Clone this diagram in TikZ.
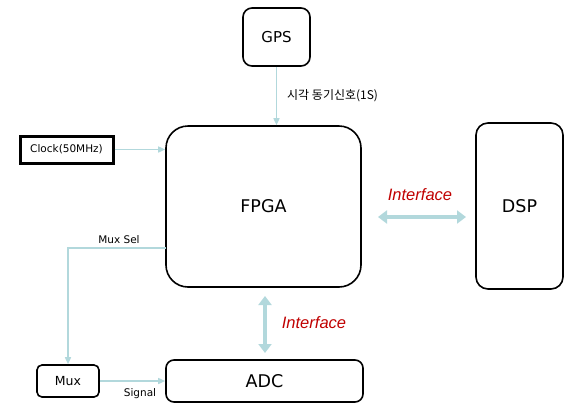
\documentclass[tikz,border=0pt]{standalone}
\usepackage{fontspec}
\setmainfont{DejaVu Sans}
\newfontfamily\kofont{Noto Sans CJK KR}
\newfontfamily\itfont{Liberation Sans}
\usetikzlibrary{arrows.meta}
\definecolor{lnblue}{HTML}{B2D8DC}
\definecolor{ifred}{HTML}{C00000}
\begin{document}
\begin{tikzpicture}[x=1pt,y=-1pt,
  blk/.style={draw=black,line width=1.6pt,rounded corners=#1,inner sep=0pt},
  blk/.default=8pt,
  sig/.style={draw=lnblue,line width=1.5pt,-{Triangle[length=7pt,width=6pt]}},
  bus/.style={draw=lnblue,line width=4pt,{Triangle[length=9pt,width=13pt]}-{Triangle[length=9pt,width=13pt]}},
  lbl/.style={font=\fontsize{10.5}{12}\selectfont,inner sep=1pt},
  iflbl/.style={font=\itfont\itshape\fontsize{16.5}{18}\selectfont,text=ifred}]
\useasboundingbox (0,0) rectangle (587,413);
\node[blk=9pt,minimum width=67pt,minimum height=58pt,font=\fontsize{15}{17}\selectfont] (gps) at (276.5,37) {GPS};
\node[blk=22pt,minimum width=195pt,minimum height=161pt,font=\fontsize{17.5}{19}\selectfont] (fpga) at (263.5,206.5) {FPGA};
\node[blk=12pt,minimum width=87pt,minimum height=166pt,font=\fontsize{17.5}{19}\selectfont] (dsp) at (519.5,206) {DSP};
\node[blk=8pt,minimum width=197pt,minimum height=42pt,font=\fontsize{17.5}{19}\selectfont] (adc) at (264.5,381) {ADC};
\node[blk=5pt,minimum width=62pt,minimum height=32pt,font=\fontsize{12.5}{14}\selectfont] (mux) at (68,381) {Mux};
\node[draw=black,line width=3pt,minimum width=93pt,minimum height=27pt,inner sep=0pt,font=\fontsize{10.5}{12}\selectfont] (clk) at (66.5,149.5) {Clock(50MHz)};
\draw[sig] (gps.south) -- (fpga.north -| gps.south);
\node[lbl,anchor=west,font=\kofont\fontsize{12}{13}\selectfont] (sync) at (286,96) {시각 동기신호(1S)};
\draw[sig] (clk.east) -- (clk.east -| fpga.west);
\coordinate (msel) at (166,248);
\coordinate (mcorner) at (68,248);
\draw[sig] (msel) -- (mcorner) -- (mux.north);
\node[lbl] (msl) at (119,240) {Mux Sel};
\draw[sig] (mux.east) -- (adc.west |- mux.east);
\node[lbl] (sgl) at (140,394) {Signal};
\coordinate (bt) at (265,296);
\coordinate (bb) at (265,353);
\draw[bus] (bt) -- (bb);
\node[iflbl] (if1) at (314,323) {Interface};
\coordinate (hl) at (378,217);
\coordinate (hr) at (466,217);
\draw[bus] (hl) -- (hr);
\node[iflbl] (if2) at (420,195) {Interface};
\end{tikzpicture}
\end{document}
